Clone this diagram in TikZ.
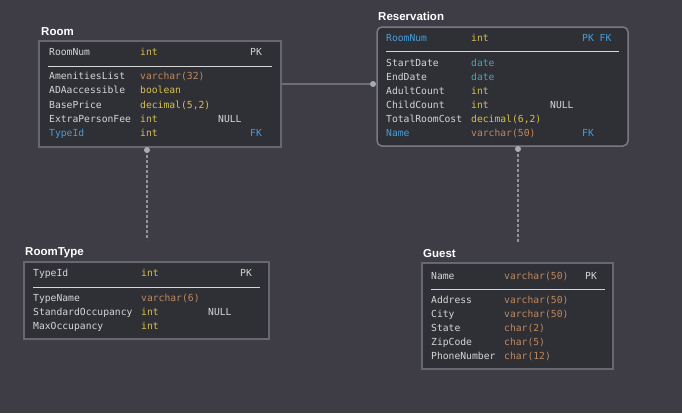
\documentclass[tikz,border=0pt]{standalone}
\usepackage{fontspec}
\setmonofont{DejaVu Sans Mono}
\setsansfont{Liberation Sans}
\usepackage{tikz}

\definecolor{bgc}{HTML}{3E3D45}
\definecolor{boxc}{HTML}{2F2F36}
\definecolor{edgec}{HTML}{68676F}
\definecolor{selc}{HTML}{7A7981}
\definecolor{linec}{HTML}{6E6D75}
\definecolor{dotc}{HTML}{A9A9B1}
\definecolor{txtc}{HTML}{D6D6D6}
\definecolor{yelc}{HTML}{D9C04E}
\definecolor{brnc}{HTML}{C08A5E}
\definecolor{cync}{HTML}{3FA9BA}
\definecolor{bluc}{HTML}{4A9DD8}

\newcommand\Y[1]{\textcolor{yelc}{#1}}
\newcommand\Br[1]{\textcolor{brnc}{#1}}
\newcommand\C[1]{\textcolor{cync}{#1}}
\newcommand\B[1]{\textcolor{bluc}{#1}}
\newcommand\fld[4]{\makebox[\wa][l]{#1}\makebox[\wb][l]{#2}\makebox[\wc][l]{#3}#4}

\tikzset{
  tbl/.style = {draw = edgec, fill = boxc, line width = 1.5pt, inner sep = 0pt},
  ttl/.style = {anchor = base west, inner sep = 0pt, text = white, font = \sffamily\bfseries\fontsize{11.5}{13}\selectfont},
  row/.style = {anchor = base west, inner sep = 0pt, text = txtc, font = \ttfamily\fontsize{9.7}{12}\selectfont},
  sep/.style = {draw = txtc, line width = 1pt},
  rel/.style = {draw = linec, line width = 2pt},
  ref/.style = {draw = dotc!80!bgc, line width = 1.5pt, dash pattern = on 3pt off 2pt},
  pin/.style = {fill = dotc}
}

\begin{document}
\begin{tikzpicture}[x = 1pt, y = -1pt]
\fill[bgc] (0,0) rectangle (682,413);
\useasboundingbox (0,0) rectangle (682,413);

% tables
\node[tbl, minimum width = 242pt, minimum height = 106pt](room) at (160,94) {};
\node[tbl, draw = selc, rounded corners = 5pt, minimum width = 251pt, minimum height = 119pt](resv) at (502.5,86.5) {};
\node[tbl, minimum width = 245pt, minimum height = 77pt](rtype) at (146.5,300.5) {};
\node[tbl, minimum width = 191pt, minimum height = 106pt](guest) at (517.5,316) {};

\node[ttl](roomt) at (41,35.5) {Room};
\node[ttl](resvt) at (378,20.5) {Reservation};
\node[ttl](rtypet) at (25,255.5) {RoomType};
\node[ttl](guestt) at (423,257.5) {Guest};

% links
\coordinate (resvpin) at (373,84);
\coordinate (roompin) at (147,150);
\coordinate (rtypeend) at (147,240);
\coordinate (resvpin2) at (518,149);
\coordinate (guestend) at (518,242);
\draw[rel] (room.east |- resvpin) -- (resvpin);
\draw[ref] (roompin) -- (rtypeend);
\draw[ref] (resvpin2) -- (guestend);
\fill[pin] (resvpin) circle (3pt) (roompin) circle (3pt) (resvpin2) circle (3pt);

% Room
\def\wa{91pt}\def\wb{78pt}\def\wc{32pt}
\node[row](rm0) at (49,55.5) {\fld{RoomNum}{\Y{int}}{}{PK}};
\draw[sep] (48,66) -- (272,66);
\node[row](rm1) at (49,79.5) {\fld{AmenitiesList}{\Br{varchar(32)}}{}{}};
\node[row](rm2) at (49,93.5) {\fld{ADAaccessible}{\Y{boolean}}{}{}};
\node[row](rm3) at (49,108) {\fld{BasePrice}{\Y{decimal(5,2)}}{}{}};
\node[row](rm4) at (49,122.5) {\fld{ExtraPersonFee}{\Y{int}}{NULL}{}};
\node[row](rm5) at (49,136.5) {\fld{\B{TypeId}}{\Y{int}}{}{\B{FK}}};

% Reservation
\def\wa{85pt}\def\wb{79pt}\def\wc{32pt}
\node[row](rs0) at (386,41.5) {\fld{\B{RoomNum}}{\Y{int}}{}{\B{PK FK}}};
\draw[sep] (386,51) -- (619,51);
\node[row](rs1) at (386,66.5) {\fld{StartDate}{\C{date}}{}{}};
\node[row](rs2) at (386,80.5) {\fld{EndDate}{\C{date}}{}{}};
\node[row](rs3) at (386,94.5) {\fld{AdultCount}{\Y{int}}{}{}};
\node[row](rs4) at (386,108.5) {\fld{ChildCount}{\Y{int}}{NULL}{}};
\node[row](rs5) at (386,122.5) {\fld{TotalRoomCost}{\Y{decimal(6,2)}}{}{}};
\node[row](rs6) at (386,136.5) {\fld{\B{Name}}{\Br{varchar(50)}}{}{\B{FK}}};

% RoomType
\def\wa{108pt}\def\wb{67pt}\def\wc{32pt}
\node[row](rt0) at (33,276.5) {\fld{TypeId}{\Y{int}}{}{PK}};
\draw[sep] (33,287) -- (260,287);
\node[row](rt1) at (33,301.5) {\fld{TypeName}{\Br{varchar(6)}}{}{}};
\node[row](rt2) at (33,315.5) {\fld{StandardOccupancy}{\Y{int}}{NULL}{}};
\node[row](rt3) at (33,329.5) {\fld{MaxOccupancy}{\Y{int}}{}{}};

% Guest
\def\wa{73pt}\def\wb{81pt}\def\wc{0pt}
\node[row](gs0) at (431,279.5) {\fld{Name}{\Br{varchar(50)}}{}{PK}};
\draw[sep] (431,289) -- (605,289);
\node[row](gs1) at (431,303.5) {\fld{Address}{\Br{varchar(50)}}{}{}};
\node[row](gs2) at (431,317.5) {\fld{City}{\Br{varchar(50)}}{}{}};
\node[row](gs3) at (431,331.5) {\fld{State}{\Br{char(2)}}{}{}};
\node[row](gs4) at (431,345.5) {\fld{ZipCode}{\Br{char(5)}}{}{}};
\node[row](gs5) at (431,359.5) {\fld{PhoneNumber}{\Br{char(12)}}{}{}};
\end{tikzpicture}
\end{document}
